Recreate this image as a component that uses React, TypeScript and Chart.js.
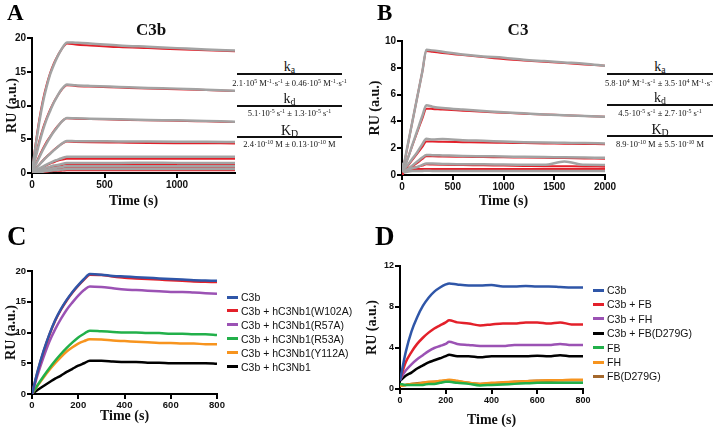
import React, { useEffect, useRef } from "react";
import { Chart, registerables } from "chart.js";
Chart.register(...registerables);

// ---------- Panel A (C3b) ----------
const timeA = [0, 25, 50, 75, 100, 125, 150, 175, 200, 220, 240, 300, 400, 600, 800, 1000, 1200, 1400];
const xTicksA = [0, 500, 1000];
const yTicksA = [0, 5, 10, 15, 20];
const fitA1 = [0, 4.3, 7.9, 10.8, 13.0, 14.8, 16.2, 17.3, 18.2, 18.8, 19.2, 19.05, 18.9, 18.65, 18.5, 18.35, 18.2, 18.05];
const datA1 = [0.3, 4.0, 7.5, 10.4, 12.7, 14.6, 16.0, 17.2, 18.2, 18.9, 19.35, 19.3, 19.2, 18.9, 18.7, 18.5, 18.3, 18.15];
const fitA2 = [0, 2.5, 4.7, 6.6, 8.1, 9.4, 10.5, 11.4, 12.2, 12.7, 13.0, 12.9, 12.8, 12.65, 12.5, 12.4, 12.3, 12.15];
const datA2 = [0.3, 2.3, 4.4, 6.3, 7.9, 9.2, 10.4, 11.4, 12.3, 12.8, 13.1, 13.0, 12.9, 12.75, 12.6, 12.5, 12.35, 12.2];
const fitA3 = [0, 1.3, 2.5, 3.6, 4.6, 5.4, 6.2, 6.9, 7.5, 7.9, 8.1, 8.05, 8.0, 7.9, 7.8, 7.75, 7.65, 7.55];
const datA3 = [0.3, 1.2, 2.3, 3.4, 4.4, 5.3, 6.1, 6.8, 7.5, 7.9, 8.15, 8.1, 8.05, 7.95, 7.85, 7.8, 7.7, 7.6];
const fitA4 = [0, 0.65, 1.25, 1.85, 2.4, 2.9, 3.4, 3.85, 4.25, 4.5, 4.65, 4.6, 4.55, 4.5, 4.45, 4.42, 4.4, 4.38];
const datA4 = [0.3, 0.6, 1.2, 1.8, 2.35, 2.85, 3.35, 3.8, 4.25, 4.55, 4.75, 4.72, 4.7, 4.68, 4.65, 4.63, 4.62, 4.6];
const fitA5 = [0, 0.3, 0.6, 0.9, 1.15, 1.4, 1.6, 1.8, 1.95, 2.05, 2.1, 2.1, 2.1, 2.1, 2.1, 2.1, 2.1, 2.1];
const datA5 = [0.3, 0.35, 0.65, 0.95, 1.25, 1.5, 1.75, 1.95, 2.15, 2.3, 2.4, 2.4, 2.4, 2.42, 2.4, 2.42, 2.4, 2.4];
const fitA6 = [0, 0.2, 0.35, 0.55, 0.7, 0.85, 0.95, 1.05, 1.15, 1.25, 1.3, 1.3, 1.3, 1.3, 1.3, 1.3, 1.3, 1.3];
const datA6 = [0.3, 0.25, 0.4, 0.6, 0.8, 0.95, 1.1, 1.2, 1.3, 1.4, 1.5, 1.5, 1.5, 1.5, 1.52, 1.5, 1.5, 1.5];
const fitA7 = [0, 0.1, 0.2, 0.3, 0.4, 0.5, 0.55, 0.65, 0.7, 0.75, 0.8, 0.8, 0.8, 0.8, 0.8, 0.8, 0.8, 0.8];
const datA7 = [0.3, 0.15, 0.25, 0.35, 0.5, 0.6, 0.7, 0.8, 0.85, 0.95, 1.0, 1.0, 1.0, 1.0, 1.0, 1.0, 1.0, 1.0];
const fitA8 = [0, 0.05, 0.1, 0.15, 0.2, 0.25, 0.3, 0.32, 0.35, 0.38, 0.4, 0.4, 0.4, 0.4, 0.4, 0.4, 0.4, 0.4];
const datA8 = [0.3, 0.1, 0.15, 0.2, 0.3, 0.35, 0.4, 0.45, 0.5, 0.55, 0.6, 0.6, 0.6, 0.6, 0.6, 0.6, 0.6, 0.6];

// ---------- Panel B (C3) ----------
const timeB = [0, 20, 50, 100, 150, 200, 240, 300, 400, 600, 800, 1000, 1200, 1400, 1600, 1800, 2000];
const xTicksB = [0, 500, 1000, 1500, 2000];
const yTicksB = [0, 2, 4, 6, 8, 10];
const fitB1 = [0, 0.8, 1.95, 3.9, 5.8, 7.7, 9.25, 9.2, 9.1, 8.95, 8.8, 8.65, 8.55, 8.45, 8.35, 8.25, 8.15];
const datB1 = [0.6, 0.9, 2.0, 3.9, 5.8, 7.7, 9.35, 9.3, 9.2, 9.0, 8.85, 8.75, 8.6, 8.5, 8.4, 8.3, 8.15];
const fitB2 = [0, 0.45, 1.1, 2.15, 3.2, 4.2, 4.95, 4.93, 4.88, 4.8, 4.72, 4.65, 4.58, 4.52, 4.46, 4.4, 4.35];
const datB2 = [0.7, 0.6, 1.1, 2.2, 3.3, 4.4, 5.2, 5.1, 5.0, 4.88, 4.78, 4.68, 4.6, 4.52, 4.46, 4.4, 4.35];
const fitB3 = [0, 0.3, 0.6, 1.1, 1.6, 2.1, 2.5, 2.5, 2.48, 2.45, 2.42, 2.4, 2.38, 2.36, 2.34, 2.32, 2.3];
const datB3 = [0.9, 0.5, 0.7, 1.2, 1.7, 2.3, 2.7, 2.65, 2.68, 2.6, 2.55, 2.5, 2.45, 2.42, 2.4, 2.38, 2.35];
const fitB4 = [0, 0.2, 0.35, 0.65, 0.9, 1.2, 1.4, 1.4, 1.38, 1.36, 1.34, 1.32, 1.3, 1.28, 1.26, 1.24, 1.22];
const datB4 = [0.8, 0.3, 0.4, 0.7, 1.0, 1.3, 1.5, 1.48, 1.46, 1.42, 1.4, 1.38, 1.36, 1.34, 1.32, 1.3, 1.28];
const fitB5 = [0, 0.4, 0.5, 0.55, 0.6, 0.7, 0.8, 0.78, 0.76, 0.74, 0.72, 0.7, 0.68, 0.66, 0.65, 0.64, 0.62];
const datB5 = [0.7, 0.3, 0.4, 0.5, 0.6, 0.75, 0.85, 0.85, 0.83, 0.8, 0.8, 0.78, 0.77, 0.76, 1.0, 0.76, 0.75];
const fitB6 = [0, 0.45, 0.45, 0.45, 0.45, 0.45, 0.45, 0.45, 0.45, 0.45, 0.45, 0.45, 0.45, 0.45, 0.45, 0.45, 0.45];
const datB6 = [0.5, 0.2, 0.25, 0.3, 0.3, 0.3, 0.32, 0.3, 0.3, 0.3, 0.3, 0.3, 0.3, 0.3, 0.3, 0.3, 0.3];
const fitB7 = [0, 0.25, 0.28, 0.3, 0.3, 0.3, 0.3, 0.3, 0.3, 0.3, 0.3, 0.3, 0.3, 0.3, 0.3, 0.3, 0.3];

// ---------- Panel C ----------
const timeC = [0, 25, 50, 75, 100, 125, 150, 175, 200, 225, 250, 300, 350, 400, 450, 500, 550, 600, 650, 700, 750, 800];
const xTicksC = [0, 200, 400, 600, 800];
const yTicksC = [0, 5, 10, 15, 20];
const labelsC = ["C3b", "C3b + hC3Nb1(W102A)", "C3b + hC3Nb1(R57A)", "C3b + hC3Nb1(R53A)", "C3b + hC3Nb1(Y112A)", "C3b + hC3Nb1"];
const colorsC = ["#2f56a8", "#e3202a", "#9b52b4", "#22b04a", "#f7941e", "#000000"];
const c3bC = [0, 3.8, 7.0, 9.7, 12.0, 13.8, 15.3, 16.6, 17.7, 18.7, 19.5, 19.4, 19.2, 19.1, 19.0, 18.9, 18.8, 18.7, 18.6, 18.5, 18.45, 18.4];
const w102aC = [0, 3.7, 6.9, 9.6, 11.9, 13.7, 15.2, 16.5, 17.6, 18.6, 19.4, 19.35, 19.1, 18.9, 18.8, 18.7, 18.6, 18.5, 18.4, 18.3, 18.25, 18.2];
const r57aC = [0, 3.2, 6.0, 8.5, 10.5, 12.2, 13.7, 14.9, 16.0, 16.9, 17.5, 17.4, 17.2, 17.0, 16.9, 16.8, 16.7, 16.6, 16.6, 16.5, 16.4, 16.3];
const r53aC = [0, 1.5, 2.9, 4.2, 5.4, 6.5, 7.5, 8.4, 9.2, 9.8, 10.3, 10.2, 10.1, 10.0, 10.0, 9.9, 9.9, 9.8, 9.8, 9.7, 9.7, 9.6];
const y112aC = [0, 1.4, 2.7, 3.9, 5.0, 6.0, 6.9, 7.6, 8.2, 8.6, 8.9, 8.85, 8.7, 8.6, 8.5, 8.4, 8.3, 8.3, 8.2, 8.2, 8.1, 8.1];
const nb1C = [0, 0.7, 1.3, 1.9, 2.5, 3.0, 3.6, 4.1, 4.6, 5.0, 5.4, 5.4, 5.3, 5.2, 5.2, 5.1, 5.1, 5.0, 5.0, 5.0, 5.0, 4.9];

// ---------- Panel D ----------
const timeD = [0, 25, 50, 75, 100, 125, 150, 175, 200, 215, 250, 300, 350, 400, 450, 500, 550, 600, 650, 700, 750, 800];
const xTicksD = [0, 200, 400, 600, 800];
const yTicksD = [0, 4, 8, 12];
const labelsD = ["C3b", "C3b + FB", "C3b + FH", "C3b + FB(D279G)", "FB", "FH", "FB(D279G)"];
const colorsD = ["#2f56a8", "#e3202a", "#9b52b4", "#000000", "#22b04a", "#f7941e", "#a4682c"];
const c3bD = [0.8, 3.6, 5.6, 7.0, 8.1, 8.9, 9.5, 9.9, 10.2, 10.3, 10.2, 10.1, 10.1, 10.15, 10.0, 10.0, 10.05, 10.0, 10.0, 9.95, 9.9, 9.9];
const fbD = [0.9, 2.6, 3.6, 4.4, 5.0, 5.5, 5.9, 6.2, 6.5, 6.7, 6.5, 6.4, 6.2, 6.3, 6.4, 6.4, 6.5, 6.5, 6.4, 6.5, 6.3, 6.3];
const fhD = [0.9, 1.8, 2.4, 2.9, 3.3, 3.7, 4.0, 4.2, 4.4, 4.6, 4.4, 4.3, 4.2, 4.2, 4.2, 4.3, 4.3, 4.3, 4.3, 4.4, 4.3, 4.3];
const fbMutD = [0.8, 1.3, 1.6, 2.0, 2.3, 2.6, 2.8, 3.0, 3.2, 3.35, 3.2, 3.2, 3.1, 3.2, 3.2, 3.2, 3.2, 3.25, 3.2, 3.3, 3.2, 3.2];
const fbOnlyD = [0.5, 0.4, 0.4, 0.4, 0.4, 0.5, 0.5, 0.6, 0.7, 0.7, 0.6, 0.5, 0.35, 0.4, 0.45, 0.5, 0.55, 0.6, 0.6, 0.6, 0.6, 0.6];
const fhOnlyD = [0.3, 0.4, 0.5, 0.5, 0.6, 0.7, 0.7, 0.8, 0.85, 0.9, 0.8, 0.6, 0.5, 0.6, 0.65, 0.7, 0.75, 0.8, 0.85, 0.85, 0.9, 0.9];
const fbMutOnlyD = [0.3, 0.4, 0.5, 0.55, 0.6, 0.65, 0.7, 0.75, 0.8, 0.85, 0.75, 0.6, 0.5, 0.55, 0.6, 0.7, 0.75, 0.8, 0.8, 0.85, 0.85, 0.85];

const GRAY = "#a3a3a3";
const RED = "#e3202a";

type Line = { values: number[]; color: string; width: number };

type PanelProps = {
  box: { x: number; y: number; w: number; h: number };
  area: { L: number; R: number; T: number; B: number };
  yTitleX: number;
  xTitleY: number;
  tickSize: number;
  times: number[];
  lines: Line[];
  xMax: number;
  yMax: number;
  xTicks: number[];
  yTicks: number[];
};

const TITLE_FONT = { family: "'Liberation Serif', 'Times New Roman', serif", size: 14, weight: "bold" as const, lineHeight: 1.2 };
const tickFont = (size: number) => ({ family: "'Liberation Sans', Arial, sans-serif", size, weight: "bold" as const });

function Panel(p: PanelProps) {
  const ref = useRef<HTMLCanvasElement | null>(null);
  useEffect(() => {
    if (!ref.current) return;
    const { box, area } = p;
    const lh = TITLE_FONT.size * TITLE_FONT.lineHeight;
    const yAxisWidth = area.L - box.x;
    const xAxisHeight = box.y + box.h - area.B;
    const padTop = area.T - box.y;
    const padRight = box.x + box.w - area.R;
    const yTitlePad = p.yTitleX - box.x - lh / 2;
    const xTitlePad = box.y + box.h - p.xTitleY - lh / 2;
    const chart = new Chart(ref.current, {
      type: "line",
      data: {
        datasets: p.lines.map((l) => ({
          data: p.times.map((t, i) => ({ x: t, y: l.values[i] })),
          borderColor: l.color,
          borderWidth: l.width,
          pointRadius: 0,
          fill: false,
          cubicInterpolationMode: "monotone" as const,
        })),
      },
      options: {
        responsive: false,
        animation: false,
        devicePixelRatio: 1,
        layout: { padding: { top: padTop, right: padRight, left: 0, bottom: 0 } },
        plugins: { legend: { display: false }, tooltip: { enabled: false } },
        scales: {
          x: {
            type: "linear",
            min: 0,
            max: p.xMax,
            afterFit: (s: any) => {
              s.height = xAxisHeight;
              s.paddingLeft = 0;
              s.paddingRight = 0;
            },
            afterBuildTicks: (s: any) => {
              s.ticks = p.xTicks.map((v) => ({ value: v }));
            },
            grid: { drawOnChartArea: false, drawTicks: true, tickLength: 5, color: "#000", lineWidth: 2 },
            border: { display: true, color: "#000", width: 2 },
            ticks: { color: "#111", font: tickFont(p.tickSize), padding: 1, maxRotation: 0, autoSkip: false, callback: (v: any) => String(v) },
            title: { display: true, text: "Time (s)", color: "#111", font: TITLE_FONT, padding: { top: 0, bottom: xTitlePad } },
          },
          y: {
            type: "linear",
            min: 0,
            max: p.yMax,
            afterFit: (s: any) => {
              s.width = yAxisWidth;
              s.paddingTop = 0;
              s.paddingBottom = 0;
            },
            afterBuildTicks: (s: any) => {
              s.ticks = p.yTicks.map((v) => ({ value: v }));
            },
            grid: { drawOnChartArea: false, drawTicks: true, tickLength: 5, color: "#000", lineWidth: 2 },
            border: { display: true, color: "#000", width: 2 },
            ticks: { color: "#111", font: tickFont(p.tickSize), padding: 1, autoSkip: false, callback: (v: any) => String(v) },
            title: { display: true, text: "RU (a.u.)", color: "#111", font: TITLE_FONT, padding: { top: yTitlePad, bottom: 0 } },
          },
        },
      },
    });
    return () => chart.destroy();
  }, []);
  return (
    <canvas
      ref={ref}
      width={p.box.w}
      height={p.box.h}
      style={{ position: "absolute", left: p.box.x, top: p.box.y, width: p.box.w, height: p.box.h }}
    />
  );
}

const serif = "'Liberation Serif', 'Times New Roman', serif";
const sans = "'Liberation Sans', Arial, sans-serif";

function Txt({ x, y, size, bold, font, children, align }: any) {
  return (
    <div
      style={{
        position: "absolute",
        left: x,
        top: y,
        transform: align === "left" ? "translate(0,-50%)" : "translate(-50%,-50%)",
        fontFamily: font || serif,
        fontSize: size,
        fontWeight: bold ? "bold" : "normal",
        whiteSpace: "nowrap",
        lineHeight: 1,
        color: "#111",
      }}
    >
      {children}
    </div>
  );
}

const Sup = ({ children }: any) => <sup style={{ fontSize: "0.7em", verticalAlign: "0.45em", lineHeight: 0, color: "#111" }}>{children}</sup>;
const Sub = ({ children }: any) => <sub style={{ fontSize: "0.7em", verticalAlign: "-0.2em", lineHeight: 0, color: "#111" }}>{children}</sub>;

function HLine({ x1, x2, y }: any) {
  return <div style={{ position: "absolute", left: x1, top: y - 0.75, width: x2 - x1, height: 1.5, background: "#111" }} />;
}

function RateTable({ x1, x2, ys, rows }: any) {
  const cx = (x1 + x2) / 2;
  return (
    <>
      {rows.map((r: any, i: number) => (
        <React.Fragment key={i}>
          <Txt x={cx} y={ys[i][0]} size={14}>{r.head}</Txt>
          <HLine x1={x1} x2={x2} y={ys[i][1]} />
          <Txt x={cx} y={ys[i][2]} size={8.5}>{r.val}</Txt>
        </React.Fragment>
      ))}
    </>
  );
}

function Legend({ x, y0, step, labels, colors }: any) {
  return (
    <>
      {labels.map((l: string, i: number) => (
        <React.Fragment key={l}>
          <div style={{ position: "absolute", left: x, top: y0 + i * step - 1.5, width: 11, height: 3, background: colors[i] }} />
          <Txt x={x + 14} y={y0 + i * step} size={10.5} font={sans} align="left">{l}</Txt>
        </React.Fragment>
      ))}
    </>
  );
}

export default function App() {
  const linesA: Line[] = [datA1, datA2, datA3, datA4, datA5, datA6, datA7, datA8]
    .map((d) => ({ values: d, color: GRAY, width: 2.5 }))
    .concat([fitA1, fitA2, fitA3, fitA4, fitA5, fitA6, fitA7, fitA8].map((f) => ({ values: f, color: RED, width: 2 })));
  const linesB: Line[] = [datB1, datB2, datB3, datB4, datB5, datB6]
    .map((d) => ({ values: d, color: GRAY, width: 2.5 }))
    .concat([fitB1, fitB2, fitB3, fitB4, fitB5, fitB6, fitB7].map((f) => ({ values: f, color: RED, width: 2 })));
  const seriesC = [c3bC, w102aC, r57aC, r53aC, y112aC, nb1C];
  const linesC: Line[] = seriesC.map((v, i) => ({ values: v, color: colorsC[i], width: 2.5 }));
  const seriesD = [c3bD, fbD, fhD, fbMutD, fbOnlyD, fhOnlyD, fbMutOnlyD];
  const linesD: Line[] = seriesD.map((v, i) => ({ values: v, color: colorsD[i], width: 2.5 }));

  const tableYs = [[67, 74, 83], [99, 106, 113], [131, 137, 144]];
  const tableYsB = [[67, 74, 83], [98, 105, 113], [130, 136, 144]];

  return (
    <div style={{ position: "absolute", left: 0, top: 0, width: 713, height: 427, background: "#fff", overflow: "hidden" }}>
      <Panel box={{ x: 0, y: 0, w: 250, h: 215 }} area={{ L: 32, R: 235, T: 38, B: 173 }} yTitleX={12} xTitleY={201} tickSize={10}
        times={timeA} lines={linesA} xMax={1400} yMax={20} xTicks={xTicksA} yTicks={yTicksA} />
      <Panel box={{ x: 360, y: 0, w: 262, h: 215 }} area={{ L: 402, R: 605, T: 41, B: 175 }} yTitleX={375} xTitleY={201} tickSize={10}
        times={timeB} lines={linesB} xMax={2000} yMax={10} xTicks={xTicksB} yTicks={yTicksB} />
      <Panel box={{ x: 0, y: 215, w: 230, h: 212 }} area={{ L: 32, R: 217, T: 271, B: 394 }} yTitleX={11} xTitleY={416} tickSize={9.5}
        times={timeC} lines={linesC} xMax={800} yMax={20} xTicks={xTicksC} yTicks={yTicksC} />
      <Panel box={{ x: 360, y: 215, w: 235, h: 212 }} area={{ L: 400, R: 583, T: 266, B: 389 }} yTitleX={372} xTitleY={420} tickSize={9}
        times={timeD} lines={linesD} xMax={800} yMax={12} xTicks={xTicksD} yTicks={yTicksD} />

      <div style={{ position: "absolute", left: 7, top: 1, fontFamily: serif, fontWeight: "bold", fontSize: 23, lineHeight: 1 }}>A</div>
      <div style={{ position: "absolute", left: 377, top: 1, fontFamily: serif, fontWeight: "bold", fontSize: 23, lineHeight: 1 }}>B</div>
      <div style={{ position: "absolute", left: 7, top: 223, fontFamily: serif, fontWeight: "bold", fontSize: 27, lineHeight: 1 }}>C</div>
      <div style={{ position: "absolute", left: 375, top: 223, fontFamily: serif, fontWeight: "bold", fontSize: 27, lineHeight: 1 }}>D</div>

      <Txt x={151} y={29} size={17} bold>C3b</Txt>
      <Txt x={518} y={29} size={17} bold>C3</Txt>

      <RateTable x1={237} x2={342} ys={tableYs} rows={[
        { head: <>k<Sub>a</Sub></>, val: <>2.1·10<Sup>5</Sup> M<Sup>-1</Sup>·s<Sup>-1</Sup> ± 0.46·10<Sup>5</Sup> M<Sup>-1</Sup>·s<Sup>-1</Sup></> },
        { head: <>k<Sub>d</Sub></>, val: <>5.1·10<Sup>-5</Sup> s<Sup>-1</Sup> ± 1.3·10<Sup>-5</Sup> s<Sup>-1</Sup></> },
        { head: <>K<Sub>D</Sub></>, val: <>2.4·10<Sup>-10</Sup> M ± 0.13·10<Sup>-10</Sup> M</> },
      ]} />
      <RateTable x1={607} x2={713} ys={tableYsB} rows={[
        { head: <>k<Sub>a</Sub></>, val: <>5.8·10<Sup>4</Sup> M<Sup>-1</Sup>·s<Sup>-1</Sup> ± 3.5·10<Sup>4</Sup> M<Sup>-1</Sup>·s<Sup>-1</Sup></> },
        { head: <>k<Sub>d</Sub></>, val: <>4.5·10<Sup>-5</Sup> s<Sup>-1</Sup> ± 2.7·10<Sup>-5</Sup> s<Sup>-1</Sup></> },
        { head: <>K<Sub>D</Sub></>, val: <>8.9·10<Sup>-10</Sup> M ± 5.5·10<Sup>-10</Sup> M</> },
      ]} />

      <Legend x={227} y0={297} step={13.9} labels={labelsC} colors={colorsC} />
      <Legend x={593} y0={290} step={14.4} labels={labelsD} colors={colorsD} />
    </div>
  );
}
